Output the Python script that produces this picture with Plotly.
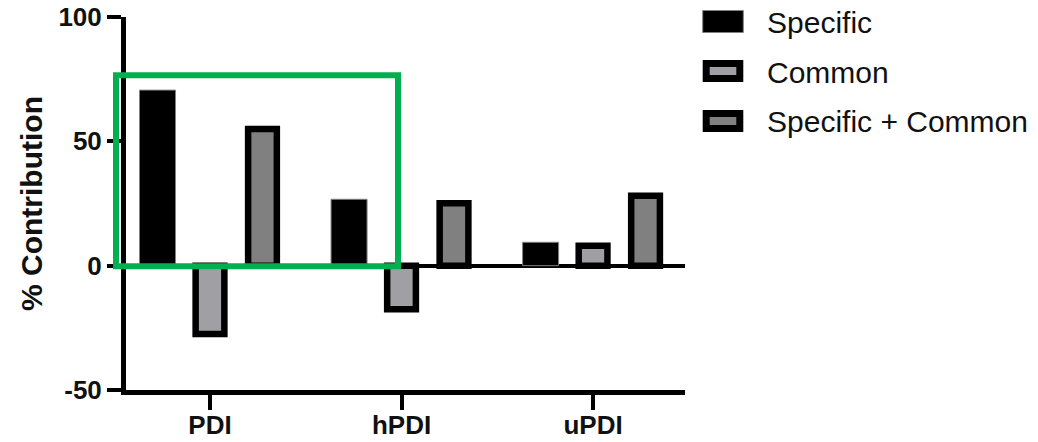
import plotly.graph_objects as go

# Data
categories = ["PDI", "hPDI", "uPDI"]
series_names = ["Specific", "Common", "Specific + Common"]
specific = [70.6, 26.7, 9.4]
common = [-27.5, -17.5, 8.0]
specific_common = [55.0, 25.1, 28.1]
y_ticks = [-50, 0, 50, 100]
y_tick_text = ["-50", "0", "50", "100"]

W, H = 1038, 442
L, R, T, B = 126, 353, 17, 52
plot_w = W - L - R
plot_h = H - T - B


def px_x(px):
    return (px - L) / plot_w


def px_y(py):
    return (H - B - py) / plot_h


FONT = "Arial, Liberation Sans, sans-serif"

styles = [
    dict(fill="#000000", line="#808080", lw=1, width=0.188, offset=-0.368),
    dict(fill="#A0A0A4", line="#000000", lw=6.5, width=0.150, offset=-0.075),
    dict(fill="#808080", line="#000000", lw=6.5, width=0.150, offset=0.199),
]

fig = go.Figure()
for name, vals, st in zip(series_names, [specific, common, specific_common], styles):
    fig.add_trace(go.Bar(
        x=categories, y=vals, name=name,
        width=st["width"], offset=st["offset"],
        marker=dict(color=st["fill"], line=dict(color=st["line"], width=st["lw"])),
        showlegend=False,
    ))

shapes = []
annotations = []

# Legend drawn as swatches + labels
row_centers = [21.5, 71, 121]
for name, st, cy in zip(series_names, styles, row_centers):
    if st["lw"] > 2:
        x0, x1, h = 706.2, 739.8, 7.5
        lw = 7
    else:
        x0, x1, h = 702.7, 743.3, 11
        lw = 1
    shapes.append(dict(
        type="rect", xref="paper", yref="paper",
        x0=px_x(x0), x1=px_x(x1), y0=px_y(cy + h), y1=px_y(cy - h),
        fillcolor=st["fill"], line=dict(color=st["line"], width=lw),
    ))
    annotations.append(dict(
        text=name, xref="paper", yref="paper", x=px_x(765), y=px_y(cy + 1),
        xanchor="left", yanchor="middle", showarrow=False,
        font=dict(family=FONT, size=30, color="#111111"),
    ))

# Highlight box
shapes.append(dict(
    type="rect", xref="paper", yref="paper", layer="above",
    x0=px_x(116), x1=px_x(398), y0=px_y(266.3), y1=px_y(75.3),
    line=dict(color="#00B050", width=6), fillcolor="rgba(0,0,0,0)",
))

# Y axis title
annotations.append(dict(
    text="% Contribution", xref="paper", yref="paper",
    x=px_x(31), y=px_y(204), xanchor="center", yanchor="middle",
    textangle=-90, showarrow=False,
    font=dict(family=FONT, size=30, color="#111111", weight=700),
))

fig.update_layout(
    width=W, height=H,
    margin=dict(l=L, r=R, t=T, b=B, autoexpand=False),
    paper_bgcolor="white", plot_bgcolor="white",
    barmode="overlay",
    shapes=shapes, annotations=annotations,
    showlegend=False,
)
fig.update_xaxes(
    type="category", range=[-0.4386, 2.48], automargin=False,
    showline=True, linewidth=5, linecolor="black",
    ticks="outside", ticklen=15, tickwidth=4, tickcolor="black",
    ticklabelstandoff=-7,
    showgrid=False, zeroline=False,
    tickfont=dict(family=FONT, size=26, color="#111111", weight=700),
)
fig.update_yaxes(
    range=[-50, 100], automargin=False, tickvals=y_ticks, ticktext=y_tick_text,
    showline=True, linewidth=5, linecolor="black",
    ticks="outside", ticklen=14, tickwidth=4, tickcolor="black",
    showgrid=False, zeroline=True, zerolinewidth=3.7, zerolinecolor="black",
    tickfont=dict(family=FONT, size=26, color="#111111", weight=700),
)

fig.write_html("out.html")
